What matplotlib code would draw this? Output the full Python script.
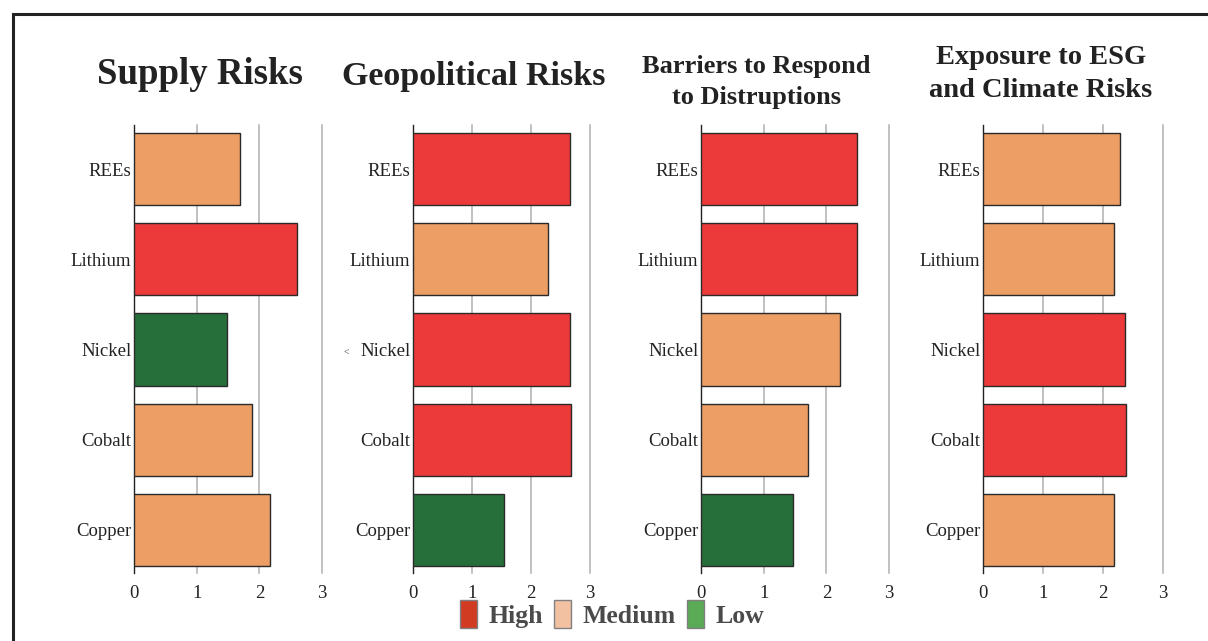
import matplotlib

matplotlib.use("Agg")
import matplotlib.pyplot as plt
from matplotlib.patches import Patch, Rectangle

plt.rcParams["font.family"] = ["Liberation Serif", "DejaVu Serif"]

minerals = ["REEs", "Lithium", "Nickel", "Cobalt", "Copper"]

supply_vals = [1.69, 2.60, 1.48, 1.88, 2.17]
supply_lvls = ["M", "H", "L", "M", "M"]

geo_vals = [2.66, 2.29, 2.66, 2.68, 1.54]
geo_lvls = ["H", "M", "H", "H", "L"]

barrier_vals = [2.49, 2.49, 2.22, 1.71, 1.47]
barrier_lvls = ["H", "H", "M", "M", "L"]

esg_vals = [2.28, 2.18, 2.37, 2.38, 2.18]
esg_lvls = ["M", "M", "H", "H", "M"]

titles = ["Supply Risks", "Geopolitical Risks",
          "Barriers to Respond\nto Distruptions", "Exposure to ESG\nand Climate Risks"]
xticks = [0, 1, 2, 3]

bar_colors = {"H": "#EC3A3A", "M": "#EC9E65", "L": "#276F3A"}
legend_colors = {"High": "#D13B22", "Medium": "#F2C1A2", "Low": "#5BAA55"}

fig = plt.figure(figsize=(12.08, 6.41), dpi=100)

# panel boxes in figure pixels: (left x of zero, width to x=3)
panels = [(134, 188), (413, 177), (701, 188), (983, 180)]
title_pos = [(200, 75, 26.5), (474, 77, 24.5), (756, 82, 19), (1041, 74, 20.5)]
data = [(supply_vals, supply_lvls), (geo_vals, geo_lvls),
        (barrier_vals, barrier_lvls), (esg_vals, esg_lvls)]

W, H = 1208, 641
top_px, bot_px = 125, 573

for (x0, w), (vals, lvls), title, (tx, ty, ts) in zip(panels, data, titles, title_pos):
    ax = fig.add_axes([x0 / W, 1 - bot_px / H, w / W, (bot_px - top_px) / H])
    ax.barh(range(len(minerals)), vals, height=0.8,
            color=[bar_colors[l] for l in lvls], edgecolor="#2a2a2a",
            linewidth=1.0, zorder=3)
    ax.set_xlim(0, 3)
    ax.set_ylim(4.48, -0.49)
    ax.set_xticks(xticks)
    ax.set_yticks(range(len(minerals)))
    ax.set_yticklabels(minerals)
    ax.tick_params(axis="both", length=0, labelsize=13.5, colors="#222222")
    ax.tick_params(axis="y", pad=2)
    ax.tick_params(axis="x", pad=9)
    for xv in xticks[1:]:
        ax.axvline(xv, color="#b0b0b0", linewidth=1.1, zorder=0, clip_on=False)
    for side in ["top", "right", "bottom"]:
        ax.spines[side].set_visible(False)
    ax.spines["left"].set_color("#222222")
    ax.spines["left"].set_linewidth(1.0)
    fig.text(tx / W, 1 - ty / H, title, ha="center", va="center",
             fontsize=ts, fontweight="bold", color="#222222", linespacing=1.42)

# stray glyph beside the Nickel label of the second panel
fig.text(346 / W, 1 - 352 / H, "<", fontsize=7, ha="center", va="center",
         color="#444444")

# frame around the figure, running off the right and bottom edges
fig.add_artist(Rectangle((13 / W, -0.05), 1.2, 1 - 14 / H + 0.05,
                         transform=fig.transFigure, fill=False,
                         edgecolor="#222222", linewidth=2.2))

handles = [Patch(facecolor=c, edgecolor="#808080", label=k)
           for k, c in legend_colors.items()]
fig.legend(handles=handles, loc="center", bbox_to_anchor=(612 / W, 1 - 614 / H),
           ncol=3, frameon=False, handlelength=0.65, handleheight=1.3,
           handletextpad=0.45, columnspacing=0.45,
           prop={"family": "Liberation Serif", "weight": "bold", "size": 18.5},
           labelcolor="#4a4a4a")

fig.savefig("out.png", dpi=100)
